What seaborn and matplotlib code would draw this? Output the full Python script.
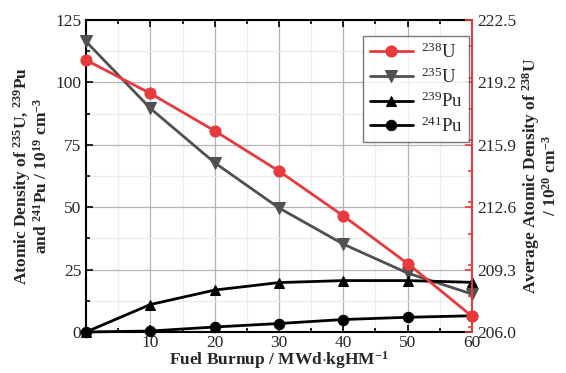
import matplotlib
matplotlib.use("Agg")
import matplotlib.pyplot as plt
import seaborn as sns
import pandas as pd
import numpy as np
from matplotlib.ticker import MultipleLocator, FixedLocator, FormatStrFormatter

burnup = [0, 10, 20, 30, 40, 50, 60]
u238 = [220.38, 218.62, 216.64, 214.51, 212.14, 209.62, 206.83]
u235 = [116.4, 89.6, 67.8, 49.7, 35.2, 23.6, 15.2]
pu239 = [0.0, 11.0, 16.8, 19.8, 20.6, 20.6, 19.9]
pu241 = [0.0, 0.4, 2.0, 3.4, 5.0, 5.9, 6.5]

left_ticks = [0, 25, 50, 75, 100, 125]
right_ticks = [206.0, 209.3, 212.6, 215.9, 219.2, 222.5]
x_ticks = [10, 20, 30, 40, 50, 60]

sns.set_style("ticks")
plt.rcParams['font.family'] = ['Liberation Serif', 'DejaVu Serif']
plt.rcParams['mathtext.fontset'] = 'custom'
plt.rcParams['mathtext.rm'] = 'Liberation Serif'
plt.rcParams['mathtext.bf'] = 'Liberation Serif:bold'
plt.rcParams['mathtext.it'] = 'Liberation Serif:italic'

RED = '#e8393c'
GRAY = '#505050'
BLACK = '#000000'

fig = plt.figure(figsize=(5.66, 3.73), dpi=100)
ax = fig.add_axes([86/566, 1-332/373, (472-86)/566, (332-20)/373])
ax2 = ax.twinx()

df = pd.DataFrame({'x': burnup, 'u238': u238, 'u235': u235, 'pu239': pu239, 'pu241': pu241})

lw = 2.0
ms = 7.5
sns.lineplot(data=df, x='x', y='u235', ax=ax, color=GRAY, marker='v', markersize=ms + 0.5,
             linewidth=lw, markeredgecolor=GRAY, label='$^{235}$U', clip_on=False, zorder=3)
sns.lineplot(data=df, x='x', y='pu239', ax=ax, color=BLACK, marker='^', markersize=ms,
             linewidth=lw, markeredgecolor=BLACK, label='$^{239}$Pu', clip_on=False, zorder=3)
sns.lineplot(data=df, x='x', y='pu241', ax=ax, color=BLACK, marker='o', markersize=ms,
             linewidth=lw, markeredgecolor=BLACK, label='$^{241}$Pu', clip_on=False, zorder=3)
sns.lineplot(data=df, x='x', y='u238', ax=ax2, color=RED, marker='o', markersize=ms + 0.5,
             linewidth=lw, markeredgecolor=RED, label='$^{238}$U', clip_on=False, zorder=3)

ax.set_xlim(0, 60)
ax.set_ylim(0, 125)
ax2.set_ylim(206.0, 222.5)

ax.xaxis.set_major_locator(FixedLocator(x_ticks))
ax.xaxis.set_minor_locator(MultipleLocator(5))
ax.yaxis.set_major_locator(FixedLocator(left_ticks))
ax.yaxis.set_minor_locator(MultipleLocator(12.5))
ax2.yaxis.set_major_locator(FixedLocator(right_ticks))
ax2.yaxis.set_minor_locator(MultipleLocator(1.65))
ax2.yaxis.set_major_formatter(FormatStrFormatter('%.1f'))

ax.grid(which='major', color='#b4b4b4', linewidth=0.9)
ax.grid(which='minor', color='#ececec', linewidth=0.9)
ax.set_axisbelow(True)

ax.tick_params(which='both', direction='in', top=True, labelsize=12.5, width=1.2, color='black')
ax.tick_params(which='major', length=5)
ax.tick_params(which='minor', length=3)
ax.tick_params(axis='y', right=False)
ax.tick_params(axis='x', pad=2)
ax2.tick_params(which='both', direction='in', labelsize=12.5, width=1.2, color=RED)
ax2.tick_params(which='major', length=5)
ax2.tick_params(which='minor', length=3)

for s in ['left', 'bottom', 'top']:
    ax.spines[s].set_linewidth(1.5)
    ax.spines[s].set_color('black')
ax.spines['right'].set_visible(False)
ax2.spines['right'].set_color(RED)
ax2.spines['right'].set_linewidth(1.5)
for s in ['left', 'bottom', 'top']:
    ax2.spines[s].set_visible(False)

ax.set_xlabel(r'Fuel Burnup / MWd$\cdot$kgHM$^{\mathbf{-1}}$', fontsize=12.5, fontweight='bold', labelpad=-1)
ax.set_ylabel('Atomic Density of $^{\\mathbf{235}}$U, $^{\\mathbf{239}}$Pu\n'
              'and $^{\\mathbf{241}}$Pu / 10$^{\\mathbf{19}}$ cm$^{\\mathbf{-3}}$',
              fontsize=12.5, fontweight='bold', labelpad=3, linespacing=1.0)
ax2.set_ylabel('Average Atomic Density of $^{\\mathbf{238}}$U\n'
               '/ 10$^{\\mathbf{20}}$ cm$^{\\mathbf{-3}}$',
               fontsize=12.5, fontweight='bold', labelpad=3, linespacing=1.0)

h1, l1 = ax.get_legend_handles_labels()
h2, l2 = ax2.get_legend_handles_labels()
if ax.get_legend():
    ax.get_legend().remove()
if ax2.get_legend():
    ax2.get_legend().remove()
leg = ax2.legend(h2 + h1, l2 + l1, loc='upper right', bbox_to_anchor=(0.992, 0.949),
                 borderaxespad=0, fontsize=13.5, frameon=True, fancybox=False, edgecolor='#555555',
                 handlelength=2.3, labelspacing=0.28, borderpad=0.35, handletextpad=0.4)
leg.get_frame().set_linewidth(1.0)

fig.savefig('out.png', dpi=100)
